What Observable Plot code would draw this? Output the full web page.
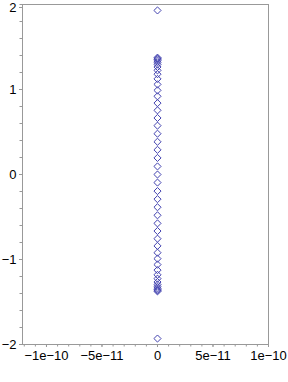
<!DOCTYPE html>
<html>
<head>
<meta charset="utf-8">
<script src="https://cdn.jsdelivr.net/npm/d3@7"></script>
<script src="https://cdn.jsdelivr.net/npm/@observablehq/plot@0.6"></script>
<style>
  html, body { margin: 0; padding: 0; background: #fff; }
  svg { display: block; }
</style>
</head>
<body>
<div id="chart"></div>
<script>
// Real parts (all essentially zero) and imaginary parts of the points
const imagParts = [
  1.93,
  1.375, 1.365, 1.355, 1.34, 1.32, 1.295, 1.265, 1.225, 1.18, 1.125,
  1.06, 0.99, 0.92, 0.84, 0.755, 0.665, 0.575, 0.48, 0.385, 0.29, 0.195, 0.095,
  0,
  -0.095, -0.195, -0.29, -0.385, -0.48, -0.575, -0.665, -0.755, -0.84, -0.92, -0.99,
  -1.06, -1.125, -1.18, -1.225, -1.265, -1.295, -1.32, -1.34, -1.355, -1.365, -1.375,
  -1.93
];
const realParts = imagParts.map(() => 0);

const xTickValues = [-1e-10, -5e-11, 0, 5e-11, 1e-10];
const xTickLabels = ["\u22121e\u221210", "\u22125e\u221211", "0", "5e\u221211", "1e\u221210"];
const yTickValues = [-2, -1, 0, 1, 2];
const yTickLabels = ["\u22122", "\u22121", "0", "1", "2"];

const points = imagParts.map((v, i) => ({re: realParts[i], im: v}));

const xMinor = d3.range(-12, 11).map(k => k * 1e-11);
const yMinor = d3.range(-10, 11).map(k => k * 0.2);
const yLab = d => yTickLabels[yTickValues.indexOf(d)];

const chart = Plot.plot({
  width: 288,
  height: 382,
  marginLeft: 22,
  marginRight: 20,
  marginTop: 4,
  marginBottom: 38,
  x: {domain: [-1.216e-10, 1e-10]},
  y: {domain: [-2, 2]},
  style: {fontFamily: "'Liberation Sans', Arial, sans-serif", fontSize: "13px", color: "#000", background: "#fff"},
  marks: [
    Plot.axisX({ticks: xMinor, tickSize: 2.5, stroke: "#999", tickFormat: () => "", label: null}),
    Plot.axisY({ticks: yMinor, tickSize: 2.5, stroke: "#999", tickFormat: () => "", label: null}),
    Plot.axisX({ticks: xTickValues, tickSize: 3, tickPadding: 3, stroke: "#999",
      tickFormat: d => xTickLabels[xTickValues.indexOf(d)], label: null}),
    Plot.axisY({ticks: yTickValues.slice(0, 4), tickSize: 3, tickPadding: 3, stroke: "#999",
      tickFormat: yLab, label: null}),
    Plot.axisY({ticks: yTickValues.slice(4), tickSize: 3, tickPadding: 3, stroke: "#999",
      tickFormat: yLab, label: null, dy: 3}),
    Plot.frame({stroke: "#999"}),
    Plot.dot(points, {x: "re", y: "im", symbol: "diamond2", r: 3.2, stroke: "#4343b0", strokeWidth: 1, fill: "none"})
  ]
});
document.getElementById("chart").appendChild(chart);
</script>
</body>
</html>
